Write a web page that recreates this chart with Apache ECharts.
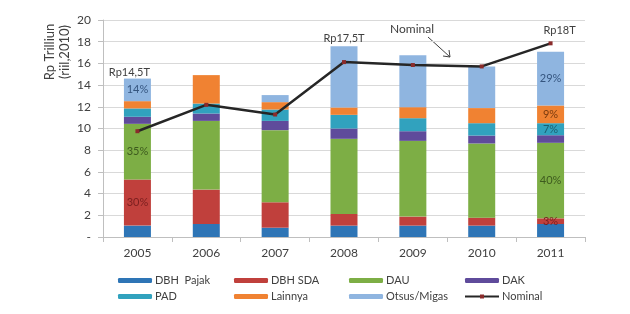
<!DOCTYPE html>
<html>
<head>
<meta charset="utf-8">
<script src="https://cdn.jsdelivr.net/npm/echarts@6/dist/echarts.min.js"></script>
<style>
  html, body { margin: 0; padding: 0; background: #fff; }
  #box { width: 630px; height: 314px; }
</style>
</head>
<body>
<div id="box"></div>
<script>
// data (Rp trilliun, riil 2010)
const years = ['2005', '2006', '2007', '2008', '2009', '2010', '2011'];
const dbhPajak = [1.05, 1.2, 0.86, 1.05, 1.05, 1.05, 1.2];
const dbhSda = [4.24, 3.17, 2.34, 1.07, 0.83, 0.73, 0.52];
const dau = [5.14, 6.33, 6.65, 6.93, 6.98, 6.84, 6.96];
const dak = [0.65, 0.68, 0.85, 0.95, 0.89, 0.73, 0.7];
const pad = [0.77, 0.92, 1.05, 1.26, 1.2, 1.14, 1.11];
const lainnya = [0.67, 2.62, 0.68, 0.68, 1.02, 1.39, 1.63];
const otsus = [2.08, 0, 0.65, 5.63, 4.77, 3.84, 4.96];
const nominal = [9.75, 12.18, 11.29, 16.12, 15.85, 15.72, 17.85];

// percent labels shown inside some segments: [seriesName, yearIndex, text]
const pctLabels = [
  ['Otsus/Migas', 0, '14%'], ['DAU', 0, '35%'], ['DBH SDA', 0, '30%'],
  ['Otsus/Migas', 6, '29%'], ['Lainnya', 6, '9%'], ['PAD', 6, '7%'],
  ['DAU', 6, '40%'], ['DBH SDA', 6, '3%']
];

const font = 'Lato, "Noto Sans", sans-serif';

const stacks = [
  { name: 'DBH  Pajak', data: dbhPajak, color: '#2e75b6', dark: '#1f4e79' },
  { name: 'DBH SDA', data: dbhSda, color: '#c0403c', dark: '#7a1f1f' },
  { name: 'DAU', data: dau, color: '#7dae45', dark: '#3d5a1e' },
  { name: 'DAK', data: dak, color: '#5f4b9b', dark: '#35285e' },
  { name: 'PAD', data: pad, color: '#31a2be', dark: '#1d5f70' },
  { name: 'Lainnya', data: lainnya, color: '#f08232', dark: '#7a3a0f' },
  { name: 'Otsus/Migas', data: otsus, color: '#8fb5e0', dark: '#35557f' }
];

const barSeries = stacks.map(s => ({
  name: s.name,
  type: 'bar',
  stack: 'total',
  barWidth: 27,
  itemStyle: { color: s.color },
  data: s.data.map((v, i) => {
    const hit = pctLabels.find(p => p[0] === s.name && p[1] === i);
    if (!hit) return v;
    return {
      value: v,
      label: {
        show: true, position: 'inside', formatter: hit[2],
        color: s.dark, fontSize: 11, fontFamily: font
      }
    };
  })
}));

const lineSeries = {
  name: 'Nominal',
  type: 'line',
  data: nominal,
  z: 5,
  symbol: 'rect',
  symbolSize: 4,
  itemStyle: { color: '#8a2b2b' },
  lineStyle: { color: '#262626', width: 2.5 },
  markPoint: {
    symbol: 'circle', symbolSize: 0,
    label: { show: true, color: '#404040', fontSize: 11, fontFamily: font, formatter: p => p.name },
    data: [
      { name: 'Rp14,5T', coord: ['2005', 15.2], label: { offset: [-8, 0] } },
      { name: 'Rp17,5T', coord: ['2008', 18.3] },
      { name: 'Rp18T', coord: ['2011', 19.0], label: { offset: [9, 0] } }
    ]
  }
};

const legendCols = [
  { left: 113, data: ['DBH  Pajak', 'PAD'] },
  { left: 229, data: ['DBH SDA', 'Lainnya'] },
  { left: 344, data: ['DAU', 'Otsus/Migas'] },
  { left: 459, data: ['DAK', 'Nominal'] }
];

const chart = echarts.init(document.getElementById('box'));
chart.setOption({
  animation: false,
  textStyle: { fontFamily: font },
  grid: { left: 103, right: 45, top: 20, bottom: 77 },
  legend: legendCols.map(c => ({
    orient: 'vertical',
    left: c.left,
    top: 270,
    itemGap: 5,
    itemWidth: 34,
    itemHeight: 5,
    textStyle: { fontSize: 11, color: '#404040', fontFamily: font, padding: [0, 0, 0, -2] },
    data: c.data
  })),
  xAxis: {
    type: 'category',
    data: years,
    axisLine: { lineStyle: { color: '#bfbfbf' } },
    axisTick: { show: true, length: 5, lineStyle: { color: '#bfbfbf' } },
    axisLabel: { color: '#404040', fontSize: 12, margin: 10 }
  },
  yAxis: {
    type: 'value',
    min: 0, max: 20, interval: 2,
    axisLine: { show: true, lineStyle: { color: '#bfbfbf' } },
    axisTick: { show: true, length: 5, lineStyle: { color: '#bfbfbf' } },
    splitLine: { lineStyle: { color: '#d9d9d9' } },
    axisLabel: { color: '#404040', fontSize: 12, margin: 12, formatter: v => v === 0 ? '-' : v }
  },
  graphic: [
    {
      type: 'text', x: 57, y: 52, rotation: Math.PI / 2,
      style: {
        text: 'Rp Trilliun\n(riil,2010)', fill: '#404040', font: '13px ' + font,
        align: 'center', verticalAlign: 'middle', lineHeight: 15
      }
    },
    {
      type: 'text', x: 412, y: 29,
      style: { text: 'Nominal', fill: '#404040', font: '12px ' + font, align: 'center', verticalAlign: 'middle' }
    },
    {
      type: 'line', shape: { x1: 428, y1: 37, x2: 450, y2: 57 },
      style: { stroke: '#404040', lineWidth: 1 }
    },
    {
      type: 'polyline', shape: { points: [[443, 56], [450, 57], [449, 50]] },
      style: { stroke: '#404040', lineWidth: 1, fill: null }
    }
  ],
  series: barSeries.concat([lineSeries])
});
</script>
</body>
</html>
